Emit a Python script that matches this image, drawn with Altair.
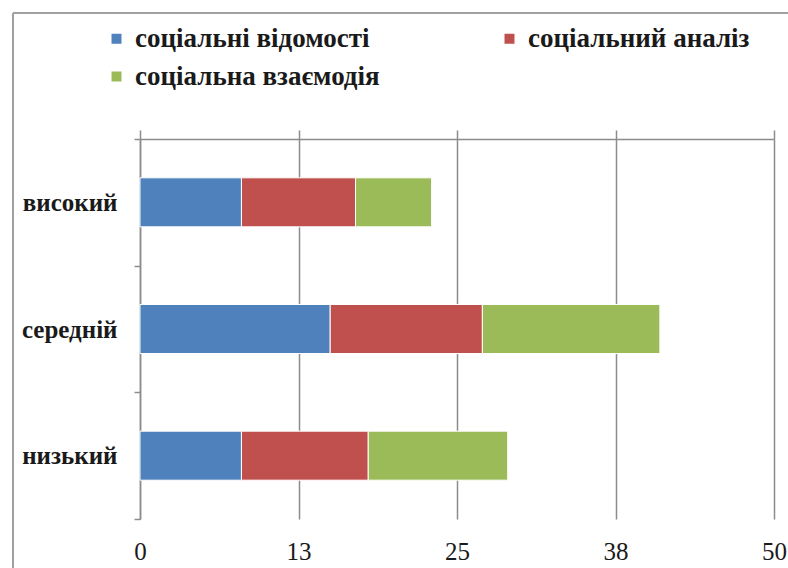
import altair as alt
import pandas as pd

categories = ["високий", "середній", "низький"]
series = ["соціальні відомості", "соціальний аналіз", "соціальна взаємодія"]
vals_vidomosti = [8, 15, 8]
vals_analiz = [9, 12, 10]
vals_vzaiemodiia = [6, 14, 11]
tick_values = [0, 12.5, 25, 37.5, 50]
colors = ["#4F81BD", "#C0504D", "#9BBB59"]

rows = []
for s_i, (s, vals) in enumerate(zip(series, [vals_vidomosti, vals_analiz, vals_vzaiemodiia])):
    for c, v in zip(categories, vals):
        rows.append({"cat": c, "series": s, "order": s_i, "value": v})
df = pd.DataFrame(rows)
ticks_df = pd.DataFrame({"v": tick_values})

FONT = "Liberation Serif"
LEGEND_FONT = "Times New Roman"
GRID = "#8c8c8c"
TXT = "#1a1a1a"

xscale = alt.Scale(domain=[0, 50], nice=False, zero=True)
yscale = alt.Scale(domain=categories, paddingInner=0, paddingOuter=0)

bars = alt.Chart(df).mark_bar(stroke="white", strokeWidth=1,
                              height=alt.RelativeBandSize(0.387)).encode(
    x=alt.X("value:Q", stack="zero", scale=xscale,
            axis=alt.Axis(orient="top", values=tick_values, labels=False, title=None,
                          grid=True, gridColor=GRID, gridWidth=1.5, gridOpacity=1,
                          domain=True, domainColor=GRID, domainWidth=1.5,
                          ticks=True, tickSize=9, tickColor=GRID, tickWidth=1.5)),
    y=alt.Y("cat:N", sort=categories, scale=yscale,
            axis=alt.Axis(title=None, orient="left", domain=True, domainColor=GRID, domainWidth=1.5,
                          ticks=True, tickBand="extent", tickSize=6,
                          tickColor=GRID, tickWidth=1.5,
                          labelFont=FONT, labelFontSize=25, labelFontWeight="bold",
                          labelColor=TXT, labelPadding=17, grid=False)),
    color=alt.Color("series:N", sort=series, scale=alt.Scale(domain=series, range=colors),
                    legend=alt.Legend(title=None, orient="none", legendX=-37, legendY=-114,
                                      direction="horizontal",
                                      columns=2, columnPadding=116, rowPadding=10,
                                      symbolType="square", symbolSize=100, symbolStrokeWidth=0,
                                      labelFont=LEGEND_FONT, labelFontSize=27,
                                      labelFontWeight="bold", labelFontStyle="normal",
                                      labelColor=TXT, labelOffset=5, labelLimit=400)),
    order=alt.Order("order:Q"),
)

bottom_axis = alt.Chart(ticks_df).mark_tick(opacity=0).encode(
    x=alt.X("v:Q", scale=xscale,
            axis=alt.Axis(orient="bottom", values=tick_values, title=None, grid=False,
                          domain=False, ticks=False, labelPadding=20,
                          labelExpr="format(round(datum.value), 'd')",
                          labelFont=FONT, labelFontSize=25, labelFontWeight="normal",
                          labelColor=TXT, labelFlush=False)),
)

frame_v = alt.Chart(ticks_df).mark_rule(color="#a0a0a0", strokeWidth=2, clip=False).encode(
    x=alt.value(-127), y=alt.value(-126), y2=alt.value(460))
frame_h = alt.Chart(ticks_df).mark_rule(color="#a0a0a0", strokeWidth=2, clip=False).encode(
    x=alt.value(-127), x2=alt.value(700), y=alt.value(-126))

chart = alt.layer(bars, bottom_axis, frame_v, frame_h).resolve_axis(x="independent").properties(
    width=634, height=380,
    autosize=alt.AutoSizeParams(type="none"),
    padding={"left": 140, "top": 139, "right": 14, "bottom": 49},
    background="white",
).configure(font=FONT).configure_view(stroke=None).configure_legend(labelFont=LEGEND_FONT)

chart.save("out.html", embed_options={"renderer": "svg", "actions": False})
